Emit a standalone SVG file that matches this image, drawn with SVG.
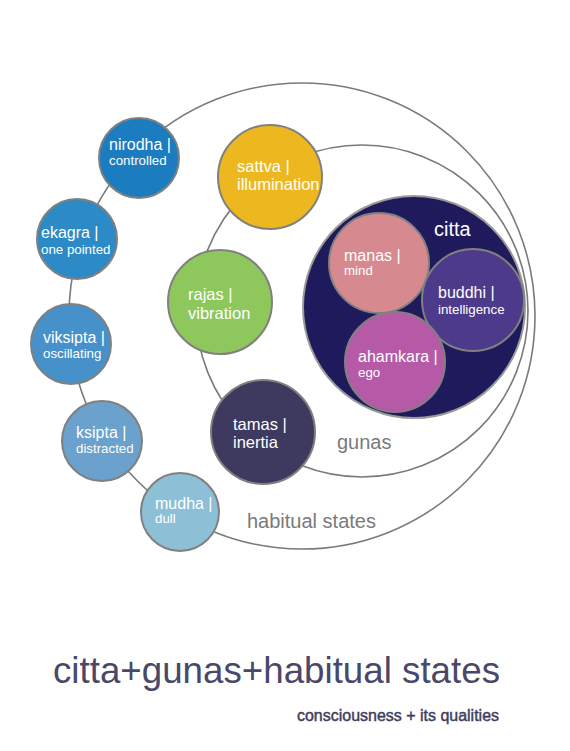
<svg xmlns="http://www.w3.org/2000/svg" width="570" height="751" viewBox="0 0 570 751">
<style>
.ring{fill:none;stroke:#7a7a7a;stroke-width:1.6}
.node{stroke:#808080;stroke-width:2}
.t1{font-family:"Liberation Sans",Arial,sans-serif;fill:#ffffff;font-size:16px}
.t2{font-family:"Liberation Sans",Arial,sans-serif;fill:#ffffff;font-size:13.3px}
.g1{font-family:"Liberation Sans",Arial,sans-serif;fill:#ffffff;font-size:16.5px}
.lab{font-family:"Liberation Sans",Arial,sans-serif;fill:#7a7a7a;font-size:20px}
</style>
<rect width="570" height="751" fill="#ffffff"/>
<g id="connectors">
<circle class="ring" cx="302" cy="316" r="233"/>
<circle class="ring" cx="362" cy="311" r="166"/>
</g>
<g id="nirodha"><circle class="node" cx="139" cy="158" r="40" fill="#1c7cc0"/><text class="t1" x="109" y="150">nirodha |</text><text class="t2" x="109" y="165">controlled</text></g>
<g id="ekagra"><circle class="node" cx="77" cy="239" r="40" fill="#2c8bc6"/><text class="t1" x="41" y="238">ekagra |</text><text class="t2" x="41" y="254">one pointed</text></g>
<g id="viksipta"><circle class="node" cx="71" cy="344" r="40" fill="#4791cb"/><text class="t1" x="43" y="343">viksipta |</text><text class="t2" x="43" y="358">oscillating</text></g>
<g id="ksipta"><circle class="node" cx="102" cy="441" r="40" fill="#6aa1cd"/><text class="t1" x="76" y="438">ksipta |</text><text class="t2" x="76" y="453">distracted</text></g>
<g id="mudha"><circle class="node" cx="180" cy="512" r="39" fill="#8dbfd6"/><text class="t1" x="155" y="509">mudha |</text><text class="t2" x="155" y="523">dull</text></g>
<g id="sattva"><circle class="node" cx="270" cy="177" r="52" fill="#edb81f"/><text class="g1" x="237" y="172">sattva |</text><text class="g1" x="237" y="190">illumination</text></g>
<g id="rajas"><circle class="node" cx="220" cy="302" r="52" fill="#8ec75b"/><text class="g1" x="188" y="300" font-size="17">rajas |</text><text class="g1" x="188" y="319" font-size="17">vibration</text></g>
<g id="tamas"><circle class="node" cx="263" cy="432" r="52" fill="#3e3a5f"/><text class="g1" x="233" y="430">tamas |</text><text class="g1" x="233" y="448">inertia</text></g>
<g id="citta"><circle cx="414" cy="307" r="111" fill="#1f1a5b" stroke="#9a9a9a" stroke-width="2"/><text class="lab" x="434" y="236" style="fill:#ffffff" font-size="19">citta</text></g>
<g id="manas"><circle class="node" cx="379" cy="263" r="50" fill="#d68a8f"/><text class="t1" x="344" y="261">manas |</text><text class="t2" x="344" y="275">mind</text></g>
<g id="buddhi"><circle class="node" cx="473" cy="300" r="51" fill="#4e3a8b"/><text class="t1" x="438" y="298">buddhi |</text><text class="t2" x="438" y="314">intelligence</text></g>
<g id="ahamkara"><circle class="node" cx="395" cy="362" r="50" fill="#b65aa8"/><text class="t1" x="358" y="362">ahamkara |</text><text class="t2" x="358" y="377">ego</text></g>
<g id="labels">
<text class="lab" x="337" y="449">gunas</text>
<text class="lab" x="247" y="528">habitual states</text>
</g>
<g id="title">
<text x="53" y="683" font-family="'Liberation Sans',Arial,sans-serif" font-size="37" fill="#4a4868" textLength="447" lengthAdjust="spacingAndGlyphs">citta+gunas+habitual states</text>
<text x="297" y="721" font-family="'Liberation Sans',Arial,sans-serif" font-size="16" fill="#3f3d5f" stroke="#3f3d5f" stroke-width="0.45" textLength="202" lengthAdjust="spacingAndGlyphs">consciousness + its qualities</text>
</g>
</svg>
